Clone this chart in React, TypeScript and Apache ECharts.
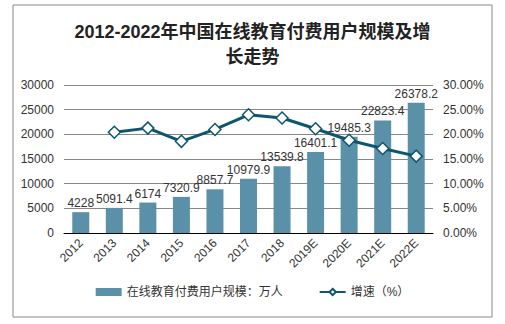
import React, { useEffect, useRef } from "react";
import * as echarts from "echarts";

const categories = ["2012", "2013", "2014", "2015", "2016", "2017", "2018", "2019E", "2020E", "2021E", "2022E"];
const users = [4228, 5091.4, 6174, 7320.9, 8857.7, 10979.9, 13539.8, 16401.1, 19485.3, 22823.4, 26378.2];
const growth = [null, 20.42, 21.26, 18.58, 20.99, 23.96, 23.31, 21.13, 18.8, 17.13, 15.58];
const leftTicks = { min: 0, max: 30000, interval: 5000 };
const rightTicks = { min: 0, max: 30, interval: 5 };

const FONT = "'Liberation Sans', Arial, 'Noto Sans CJK SC', sans-serif";

export default function App() {
  const ref = useRef<HTMLDivElement>(null);
  useEffect(() => {
    document.body.style.margin = "0";
    const chart = echarts.init(ref.current!, null, { renderer: "svg" });
    chart.setOption({
      animation: false,
      backgroundColor: "#fff",
      textStyle: { fontFamily: FONT },
      title: {
        text: "2012-2022年中国在线教育付费用户规模及增\n长走势",
        left: "center",
        top: 14,
        textStyle: { fontFamily: FONT, fontSize: 18, fontWeight: "bold", color: "#222", lineHeight: 25 },
      },
      graphic: [
        {
          type: "rect",
          shape: { x: 13, y: 5, width: 479, height: 312 },
          style: { fill: "none", stroke: "#888", lineWidth: 1 },
          silent: true,
        },
      ],
      grid: { left: 64, right: 72, top: 85, bottom: 91 },
      legend: {
        bottom: 21,
        left: "center",
        itemGap: 36,
        itemWidth: 26,
        itemHeight: 8,
        textStyle: { fontFamily: FONT, fontSize: 12, color: "#333" },
        data: [
          { name: "在线教育付费用户规模：万人", icon: "rect" },
          { name: "增速（%）" },
        ],
      },
      xAxis: {
        type: "category",
        data: categories,
        axisLine: { lineStyle: { color: "#000", width: 1 } },
        axisTick: { show: false },
        axisLabel: { rotate: 45, fontSize: 12, color: "#333", margin: 8, interval: 0 },
      },
      yAxis: [
        {
          type: "value",
          ...leftTicks,
          axisLine: { show: false },
          axisTick: { show: false },
          axisLabel: { fontSize: 12, color: "#333", margin: 10, formatter: (v: number) => String(v) },
          splitLine: { lineStyle: { color: "#888" } },
        },
        {
          type: "value",
          ...rightTicks,
          axisLine: { show: false },
          axisTick: { show: false },
          axisLabel: { fontSize: 12, color: "#333", margin: 10, formatter: (v: number) => v.toFixed(2) + "%" },
          splitLine: { show: false },
        },
      ],
      series: [
        {
          name: "在线教育付费用户规模：万人",
          type: "bar",
          data: users,
          barWidth: 17,
          itemStyle: { color: "#5b91a8" },
          label: { show: true, position: "top", fontSize: 12, color: "#333", distance: 3 },
        },
        {
          name: "增速（%）",
          type: "line",
          yAxisIndex: 1,
          data: growth,
          symbol: "diamond",
          symbolSize: 12,
          lineStyle: { color: "#0e5670", width: 3 },
          itemStyle: { color: "#fff", borderColor: "#0e5670", borderWidth: 1.5 },
        },
      ],
    });
    return () => chart.dispose();
  }, []);
  return <div ref={ref} style={{ width: 505, height: 324 }} />;
}
